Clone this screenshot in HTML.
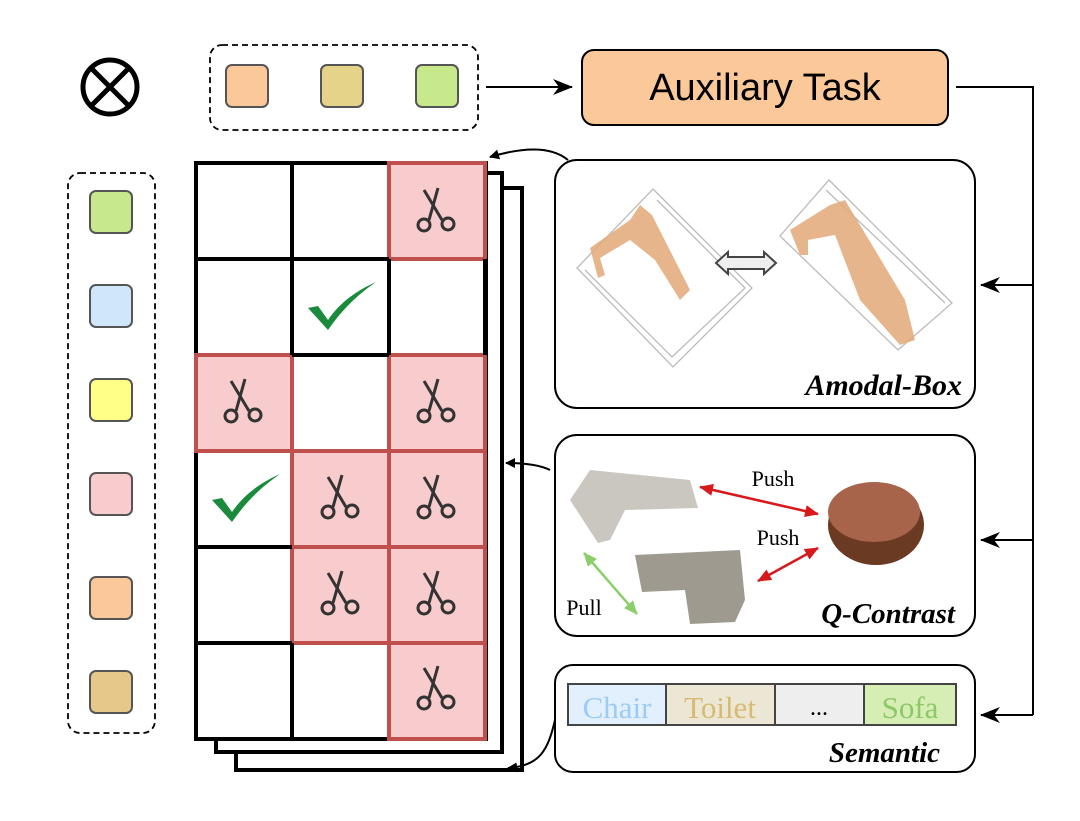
<!DOCTYPE html>
<html><head><meta charset="utf-8"><style>html,body{margin:0;padding:0;background:#fff}svg{display:block}</style></head>
<body>
<svg width="1080" height="821" viewBox="0 0 1080 821" xmlns="http://www.w3.org/2000/svg" font-family="Liberation Serif, serif">
<defs>
<g id="sc" fill="none" stroke="#333" stroke-width="3">
<line x1="-10" y1="-22" x2="8" y2="8"/><line x1="4" y1="-24" x2="-5" y2="8"/>
<circle cx="-10" cy="13" r="6"/><circle cx="14" cy="12" r="6"/>
</g>
<g id="ck"><path d="M-32,2 L-22,0 L-12,14 C0,-4 18,-16 36,-24 C16,-10 2,4 -12,24 Z" fill="#1a8a3c"/></g>
<marker id="ah" markerWidth="10" markerHeight="10" refX="9" refY="5" orient="auto" markerUnits="userSpaceOnUse"><path d="M0,0 L10,5 L0,10 Z" fill="#000"/></marker>
<marker id="ah2" markerWidth="20" markerHeight="16" refX="19" refY="8" orient="auto" markerUnits="userSpaceOnUse"><path d="M0,0 L20,8 L0,16 L6,8 Z" fill="#000"/></marker>
<marker id="rr" markerWidth="14" markerHeight="12" refX="13" refY="6" orient="auto-start-reverse" markerUnits="userSpaceOnUse"><path d="M0,0 L14,6 L0,12 Z" fill="#d7191c"/></marker>
<marker id="gg" markerWidth="14" markerHeight="12" refX="13" refY="6" orient="auto-start-reverse" markerUnits="userSpaceOnUse"><path d="M0,0 L14,6 L0,12 Z" fill="#8ccf6a"/></marker>
</defs>

<circle cx="110" cy="87" r="27" fill="none" stroke="#000" stroke-width="5"/>
<line x1="91" y1="68" x2="129" y2="106" stroke="#000" stroke-width="5"/>
<line x1="129" y1="68" x2="91" y2="106" stroke="#000" stroke-width="5"/>

<rect x="210" y="45" width="268" height="85" rx="12" fill="none" stroke="#000" stroke-width="1.8" stroke-dasharray="6,4"/>
<rect x="226" y="65" width="42" height="42" rx="6" fill="#fbc89a" stroke="#555" stroke-width="2"/>
<rect x="321" y="65" width="42" height="42" rx="6" fill="#e6d38a" stroke="#555" stroke-width="2"/>
<rect x="416" y="65" width="42" height="42" rx="6" fill="#c8e88c" stroke="#555" stroke-width="2"/>
<line x1="486" y1="87" x2="572" y2="87" stroke="#000" stroke-width="2" marker-end="url(#ah2)"/>

<rect x="582" y="50" width="366" height="75" rx="12" fill="#fbc89a" stroke="#000" stroke-width="2"/>
<text x="765" y="100" font-family="Liberation Sans, sans-serif" font-size="38" text-anchor="middle">Auxiliary Task</text>

<polyline points="956,87 1033,87 1033,715" fill="none" stroke="#000" stroke-width="2"/>
<line x1="1033" y1="285" x2="981" y2="285" stroke="#000" stroke-width="2" marker-end="url(#ah2)"/>
<line x1="1033" y1="540" x2="981" y2="540" stroke="#000" stroke-width="2" marker-end="url(#ah2)"/>
<line x1="1033" y1="715" x2="981" y2="715" stroke="#000" stroke-width="2" marker-end="url(#ah2)"/>

<rect x="68" y="173" width="87" height="560" rx="12" fill="none" stroke="#000" stroke-width="1.8" stroke-dasharray="6,4"/>
<rect x="90" y="191" width="42" height="42" rx="6" fill="#c8e88c" stroke="#555" stroke-width="2"/>
<rect x="90" y="285" width="42" height="42" rx="6" fill="#cfe6fb" stroke="#555" stroke-width="2"/>
<rect x="90" y="379" width="42" height="42" rx="6" fill="#ffff88" stroke="#555" stroke-width="2"/>
<rect x="90" y="473" width="42" height="42" rx="6" fill="#f8cccc" stroke="#555" stroke-width="2"/>
<rect x="90" y="577" width="42" height="42" rx="6" fill="#fbc89a" stroke="#555" stroke-width="2"/>
<rect x="90" y="671" width="42" height="42" rx="6" fill="#e6c98a" stroke="#555" stroke-width="2"/>

<polyline points="216,740 216,752 502,752 502,173 486,173" fill="#fff" stroke="#000" stroke-width="4"/>
<polyline points="236,752 236,770 522,770 522,188 503,188" fill="none" stroke="#000" stroke-width="4"/>

<rect x="196" y="163" width="290" height="576" fill="#fff" stroke="#000" stroke-width="4"/>
<g fill="#f8cccc" stroke="#c0504d" stroke-width="4">
<rect x="389" y="163" width="96" height="96"/>
<rect x="196" y="355" width="96" height="96"/>
<rect x="389" y="355" width="96" height="96"/>
<rect x="292" y="451" width="97" height="96"/>
<rect x="389" y="451" width="96" height="96"/>
<rect x="292" y="547" width="97" height="96"/>
<rect x="389" y="547" width="96" height="96"/>
<rect x="389" y="643" width="96" height="96"/>
</g>
<g stroke="#000" stroke-width="4">
<line x1="292" y1="163" x2="292" y2="355"/>
<line x1="196" y1="259" x2="389" y2="259"/>
<line x1="292" y1="355" x2="389" y2="355"/>
<line x1="389" y1="259" x2="389" y2="355"/>
<line x1="485" y1="259" x2="485" y2="355"/>
<line x1="196" y1="547" x2="292" y2="547"/>
<line x1="196" y1="643" x2="292" y2="643"/>
<line x1="292" y1="643" x2="292" y2="739"/>
</g>
<use href="#sc" x="434" y="212"/><use href="#sc" x="241" y="403"/><use href="#sc" x="434" y="403"/>
<use href="#sc" x="338" y="499"/><use href="#sc" x="434" y="499"/><use href="#sc" x="338" y="595"/>
<use href="#sc" x="434" y="595"/><use href="#sc" x="434" y="690"/>
<use href="#ck" x="340" y="306"/><use href="#ck" x="244" y="498"/>

<path d="M568,160 C550,145 520,148 490,157" fill="none" stroke="#000" stroke-width="2" marker-end="url(#ah)"/>
<path d="M550,470 C540,465 525,463 506,463" fill="none" stroke="#000" stroke-width="2" marker-end="url(#ah)"/>
<path d="M555,720 C548,750 540,766 508,768" fill="none" stroke="#000" stroke-width="2" marker-end="url(#ah)"/>

<rect x="555" y="160" width="420" height="248" rx="22" fill="#fff" stroke="#000" stroke-width="2"/>
<g fill="none" stroke="#bbb" stroke-width="1.3">
<path d="M653,189 L752,288 L673,367 L577,268 Z"/><path d="M657,200 L745,288 L672,357 L585,270"/>
<path d="M829,180 L952,303 L898,350 L780,236 Z"/><path d="M826,190 L945,303"/>
</g>
<g fill="#e2a877" opacity="0.85">
<path d="M590,248 L630,220 L640,205 L652,215 L690,290 L680,300 L655,260 L630,240 L600,258 L605,275 L598,278 Z"/>
<path d="M790,230 L830,205 L845,200 L905,300 L915,340 L900,345 L860,300 L835,235 L808,240 L808,255 L800,255 Z"/>
</g>
<path d="M716,263 L728,252 L728,257 L764,257 L764,252 L776,263 L764,274 L764,269 L728,269 L728,274 Z" fill="#eee" stroke="#444" stroke-width="2"/>
<text x="962" y="395" font-size="30" font-weight="bold" font-style="italic" text-anchor="end">Amodal-Box</text>

<rect x="555" y="435" width="420" height="201" rx="22" fill="#fff" stroke="#000" stroke-width="2"/>
<path d="M570,500 L590,470 L690,480 L698,508 L625,510 L610,540 L598,543 Z" fill="#c9c7bf"/>
<path d="M635,555 L740,550 L745,600 L735,622 L690,624 L685,590 L642,592 Z" fill="#9e9a8f"/>
<ellipse cx="876" cy="525" rx="48" ry="40" fill="#6b3a22"/>
<ellipse cx="874" cy="512" rx="46" ry="30" fill="#a8644a"/>
<line x1="700" y1="487" x2="818" y2="514" stroke="#d7191c" stroke-width="2.5" marker-start="url(#rr)" marker-end="url(#rr)"/>
<line x1="758" y1="581" x2="818" y2="548" stroke="#d7191c" stroke-width="2.5" marker-start="url(#rr)" marker-end="url(#rr)"/>
<line x1="584" y1="553" x2="637" y2="614" stroke="#8ccf6a" stroke-width="2.5" marker-start="url(#gg)" marker-end="url(#gg)"/>
<text x="773" y="486" font-size="22" text-anchor="middle">Push</text>
<text x="778" y="545" font-size="22" text-anchor="middle">Push</text>
<text x="584" y="615" font-size="22" text-anchor="middle">Pull</text>
<text x="955" y="623" font-size="29" font-weight="bold" font-style="italic" text-anchor="end">Q-Contrast</text>

<rect x="555" y="665" width="420" height="107" rx="18" fill="#fff" stroke="#000" stroke-width="2"/>
<rect x="568" y="684" width="98" height="41" fill="#e2f0fd" stroke="#444" stroke-width="2"/>
<rect x="666" y="684" width="109" height="41" fill="#ece6d4" stroke="#444" stroke-width="2"/>
<rect x="775" y="684" width="89" height="41" fill="#eee" stroke="#444" stroke-width="2"/>
<rect x="864" y="684" width="92" height="41" fill="#d6edb4" stroke="#444" stroke-width="2"/>
<text x="617" y="718" font-size="31" fill="#9ccbf5" text-anchor="middle">Chair</text>
<text x="720" y="718" font-size="31" fill="#d6bb70" text-anchor="middle">Toilet</text>
<text x="819" y="715" font-size="24" text-anchor="middle">...</text>
<text x="910" y="718" font-size="31" fill="#8cc868" text-anchor="middle">Sofa</text>
<text x="940" y="762" font-size="29" font-weight="bold" font-style="italic" text-anchor="end">Semantic</text>
</svg>
</body></html>
